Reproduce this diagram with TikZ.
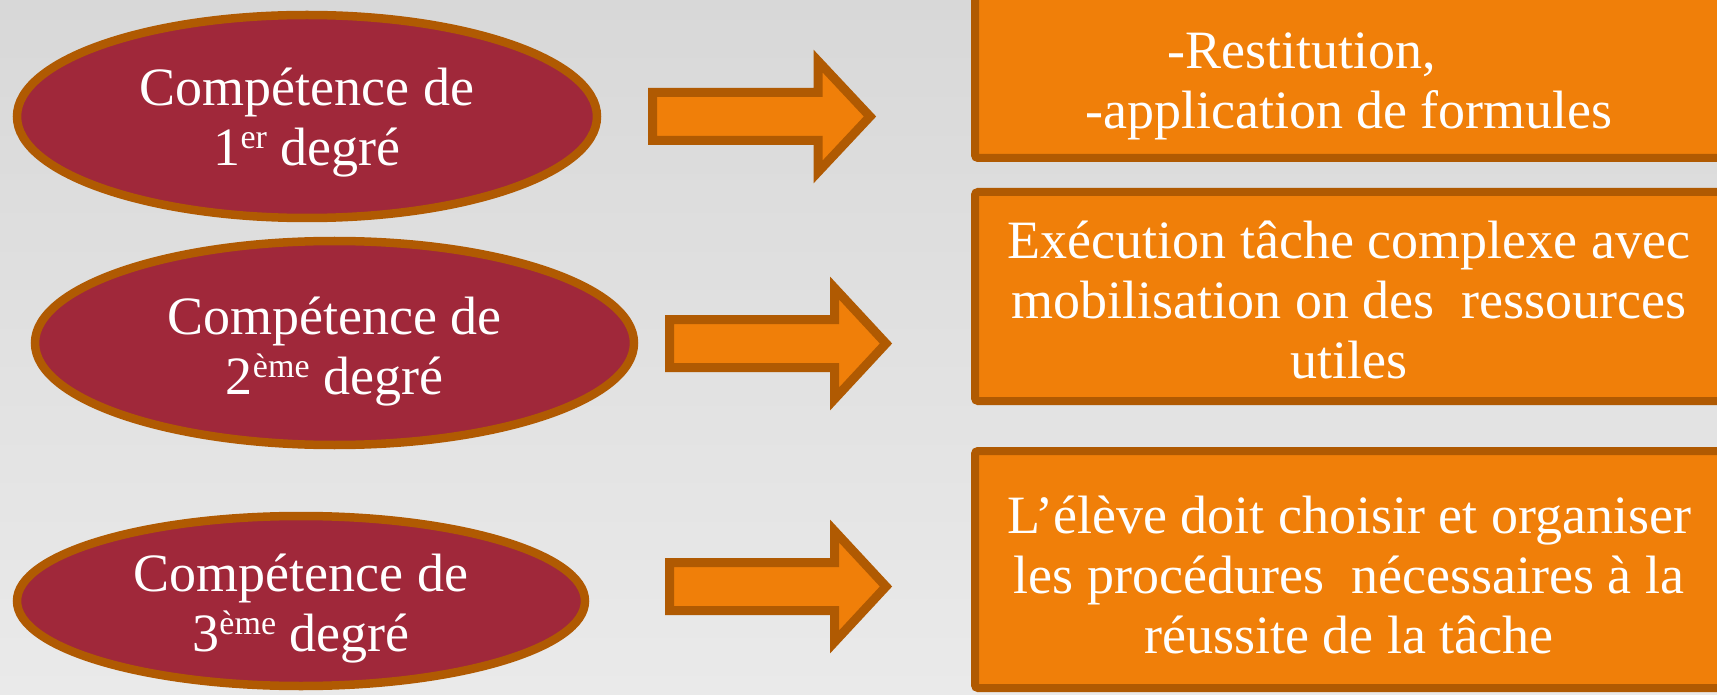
\documentclass[tikz,border=0pt]{standalone}
\usepackage{fontspec}
\setmainfont{Liberation Serif}
\usetikzlibrary{shapes.geometric}
\definecolor{ellfill}{HTML}{A0283A}
\definecolor{edgecol}{HTML}{B05A02}
\definecolor{orfill}{HTML}{F07F09}
\definecolor{bgtop}{HTML}{D8D8D8}
\definecolor{bgbot}{HTML}{EAEAEA}
\newcommand{\mysup}[1]{\raisebox{17pt}{\fontsize{34}{34}\selectfont #1}}
\begin{document}
\begin{tikzpicture}[x=1pt,y=-1pt,
  ell/.style={ellipse, draw=edgecol, fill=ellfill, line width=8.5pt, inner sep=0pt},
  boxshape/.style={rectangle, draw=edgecol, fill=orfill, line width=8pt, rounded corners=3pt, inner sep=0pt},
  bigarrow/.style={draw=edgecol, fill=orfill, line width=9pt},
  txt/.style={text=white, align=center, font=\fontsize{54}{60}\selectfont, inner sep=0pt}
]
\useasboundingbox (0,0) rectangle (1717,695);
\shade[top color=bgtop, bottom color=bgbot] (0,0) rectangle (1717,695);

% ellipses
\node[ell, minimum width=580pt, minimum height=203pt] (e1) at (307,116.5) {};
\node[ell, minimum width=599pt, minimum height=204pt] (e2) at (334.5,343) {};
\node[ell, minimum width=568pt, minimum height=170pt] (e3) at (301,601) {};
\node[txt] (te1) at ([yshift=-6pt]e1.center) {Compétence de\\1\mysup{er} degré};
\node[txt] (te2) at ([yshift=-9pt]e2.center) {Compétence de\\2\mysup{ème} degré};
\node[txt] (te3) at ([yshift=-8pt]e3.center) {Compétence de\\3\mysup{ème} degré};

% arrows
\draw[bigarrow] (652.5,92.5) -- (818,92.5) -- (818,61) -- (870,116.5) -- (818,172) -- (818,140.5) -- (652.5,140.5) -- cycle;
\draw[bigarrow] (669.5,319.5) -- (834.5,319.5) -- (834.5,288) -- (886,343.5) -- (834.5,399) -- (834.5,367.5) -- (669.5,367.5) -- cycle;
\draw[bigarrow] (669.5,562.5) -- (834.5,562.5) -- (834.5,531) -- (886,586.5) -- (834.5,642) -- (834.5,610.5) -- (669.5,610.5) -- cycle;

% boxes
\node[boxshape, minimum width=752pt, minimum height=168pt] (b1) at (1351,74) {};
\node[boxshape, minimum width=752pt, minimum height=209pt] (b2) at (1351,296.5) {};
\node[boxshape, minimum width=752pt, minimum height=237pt] (b3) at (1351,569.5) {};
\node[txt] (tb1) at (1349,86) {-Restitution,\hspace*{94pt}\\-application de formules};
\node[txt] (tb2) at (1349,300) {Exécution tâche complexe avec\\mobilisation on des\ \ ressources\\utiles};
\node[txt] (tb3) at (1349,575) {L’élève doit choisir et organiser\\les procédures\ \ nécessaires à la\\réussite de la tâche};
\end{tikzpicture}
\end{document}
